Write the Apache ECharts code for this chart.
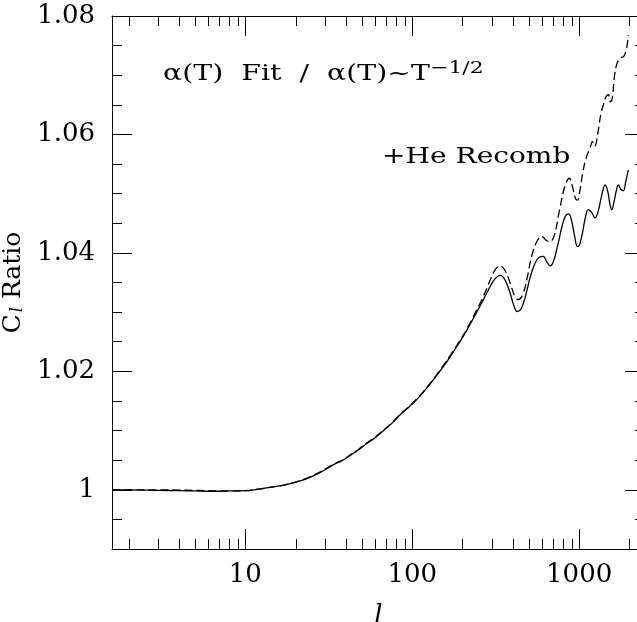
<!DOCTYPE html>
<html>
<head>
<meta charset="utf-8">
<script src="https://cdn.jsdelivr.net/npm/echarts@6/dist/echarts.min.js"></script>
<style>
  html, body { margin: 0; padding: 0; background: #fff; }
  #chart { width: 637px; height: 622px; }
</style>
</head>
<body>
<div id="chart"></div>
<script>
// multipole l and C_l ratio, fit / T^-1/2 recombination (solid)
var ellSolid = [1.6, 2, 3, 4, 5, 6, 7, 8, 10, 12, 14, 17, 20, 24, 28, 31, 34, 38, 43, 48, 54, 60, 68, 76, 85, 95, 107, 120, 134, 150, 169, 190, 213, 240, 268, 295, 315, 337, 360, 385, 405, 425, 450, 480, 510, 545, 580, 610, 640, 670, 700, 740, 790, 830, 865, 900, 940, 975, 1000, 1040, 1090, 1135, 1190, 1245, 1300, 1360, 1430, 1480, 1530, 1567, 1620, 1670, 1718, 1780, 1841, 1900, 1970]
var ratioSolid = [1.0000, 1.0000, 0.99990, 0.99985, 0.99980, 0.99975, 0.99975, 0.99980, 0.99985, 1.0001, 1.0004, 1.0008, 1.0013, 1.0020, 1.0029, 1.0036, 1.0043, 1.0049, 1.0059, 1.0068, 1.0079, 1.0088, 1.0101, 1.0113, 1.0127, 1.0139, 1.0153, 1.0169, 1.0186, 1.0204, 1.0225, 1.0247, 1.0270, 1.0297, 1.0322, 1.0345, 1.0357, 1.0362, 1.0354, 1.0333, 1.0312, 1.0301, 1.0306, 1.0330, 1.0360, 1.0383, 1.0393, 1.0394, 1.0385, 1.0378, 1.0385, 1.0410, 1.0445, 1.0463, 1.0466, 1.0455, 1.0428, 1.0411, 1.0412, 1.0430, 1.0460, 1.0473, 1.0468, 1.0459, 1.0470, 1.0495, 1.0515, 1.0505, 1.0482, 1.0473, 1.0487, 1.0505, 1.0515, 1.0507, 1.0505, 1.0520, 1.0540]

// +He recombination (dashed)
var ellDashed = [1.6, 2, 3, 4, 5, 6, 7, 8, 10, 12, 14, 17, 20, 24, 28, 31, 34, 38, 43, 48, 54, 60, 68, 76, 85, 95, 107, 120, 134, 150, 169, 190, 213, 240, 268, 295, 315, 336, 360, 385, 410, 432, 460, 490, 520, 560, 597, 635, 670, 710, 760, 820, 873, 910, 950, 975, 1010, 1050, 1100, 1162, 1200, 1240, 1290, 1350, 1397, 1450, 1497, 1540, 1580, 1630, 1679, 1758, 1850, 1920, 1972]
var ratioDashed = [1.0000, 1.0000, 1.0000, 0.99995, 0.99990, 0.99985, 0.99980, 0.99980, 0.99985, 1.0001, 1.0004, 1.0008, 1.0013, 1.0021, 1.0030, 1.0037, 1.0044, 1.0050, 1.0060, 1.0069, 1.0080, 1.0089, 1.0102, 1.0114, 1.0128, 1.0140, 1.0154, 1.0170, 1.0187, 1.0206, 1.0227, 1.0249, 1.0272, 1.0300, 1.0328, 1.0356, 1.0372, 1.0378, 1.0370, 1.0350, 1.0328, 1.0321, 1.0330, 1.0360, 1.0395, 1.0420, 1.0428, 1.0421, 1.0419, 1.0430, 1.0470, 1.0512, 1.0526, 1.0513, 1.0492, 1.0489, 1.0505, 1.0535, 1.0560, 1.0577, 1.0588, 1.0580, 1.0600, 1.0635, 1.0650, 1.0664, 1.0667, 1.0655, 1.0662, 1.0700, 1.0718, 1.0729, 1.0732, 1.0745, 1.0768]

var majorTicksX = [10, 100, 1000]
var minorTicksX = [2, 3, 4, 5, 6, 7, 8, 9, 20, 30, 40, 50, 60, 70, 80, 90, 200, 300, 400, 500, 600, 700, 800, 900, 2000]
var majorTicksY = [1, 1.02, 1.04, 1.06, 1.08]

var chart = echarts.init(document.getElementById('chart'))

var serif = 'DejaVu Serif'
var xMin = 1.59
var xMax = 2480
var yMin = 0.99
var yMax = 1.08

function zip(xs, ys) {
  return xs.map(function (x, i) { return [x, ys[i]] })
}

function yAxisOf(position, len, major, labels) {
  var ax = {
    type: 'value',
    min: yMin,
    max: yMax,
    position: position,
    axisLine: { show: major, lineStyle: { color: '#000', width: 1 } },
    axisTick: { inside: true, length: len, lineStyle: { color: '#000', width: 1 } },
    axisLabel: { show: false },
    splitLine: { show: false }
  }
  if (major) {
    ax.axisTick.customValues = majorTicksY
    if (labels) {
      ax.axisLabel = {
        show: true,
        customValues: majorTicksY,
        margin: 17,
        color: '#000',
        fontFamily: serif,
        fontSize: 26
      }
    }
  } else {
    ax.interval = 0.005
  }
  return ax
}

// log-axis ticks (bottom and top), placed through the axis scale
function renderTick(params, api) {
  var v = api.value(0)
  var len = majorTicksX.indexOf(v) >= 0 ? 20 : 10
  var b = api.coord([v, yMin])
  var t = api.coord([v, yMax])
  var x = Math.round(b[0]) + 0.5
  var st = { stroke: '#000', lineWidth: 1 }
  return {
    type: 'group',
    children: [
      { type: 'line', shape: { x1: x, y1: b[1], x2: x, y2: b[1] - len }, style: st },
      { type: 'line', shape: { x1: x, y1: t[1], x2: x, y2: t[1] + len }, style: st }
    ]
  }
}

var option = {
  backgroundColor: '#fff',
  animation: false,
  grid: {
    left: 112,
    top: 16,
    right: -8,
    bottom: 73,
    containLabel: false,
    outerBoundsMode: 'none'
  },
  xAxis: [
    {
      type: 'log',
      logBase: 10,
      min: xMin,
      max: xMax,
      position: 'bottom',
      axisLine: { lineStyle: { color: '#000', width: 1 } },
      axisTick: { show: false },
      axisLabel: {
        customValues: majorTicksX,
        formatter: function (v) { return String(v) },
        margin: 13,
        color: '#000',
        fontFamily: serif,
        fontSize: 26
      },
      splitLine: { show: false },
      name: 'l',
      nameLocation: 'middle',
      nameGap: 54,
      nameTextStyle: { fontFamily: serif, fontStyle: 'italic', fontSize: 26, color: '#000' }
    },
    {
      type: 'log',
      logBase: 10,
      min: xMin,
      max: xMax,
      position: 'top',
      axisLine: { lineStyle: { color: '#000', width: 1 } },
      axisTick: { show: false },
      axisLabel: { show: false },
      splitLine: { show: false }
    }
  ],
  yAxis: [
    Object.assign(yAxisOf('left', 20, true, true), {
      name: '{c|C}{s|l}{c| Ratio}',
      nameLocation: 'middle',
      nameRotate: 90,
      nameGap: 66,
      nameTextStyle: {
        rich: {
          c: { fontFamily: serif, fontSize: 25, color: '#000' },
          s: { fontFamily: serif, fontStyle: 'italic', fontSize: 16, color: '#000', padding: [10, 0, 0, 2] }
        }
      }
    }),
    yAxisOf('left', 10, false),
    yAxisOf('right', 20, true, false),
    yAxisOf('right', 10, false)
  ],
  graphic: [
    {
      type: 'text',
      x: 163,
      y: 60,
      scaleX: 1.29,
      style: {
        text: 'α(T)  Fit  /  α(T)~T{sup|−1/2}',
        fill: '#000',
        font: '22px "DejaVu Serif"',
        rich: {
          sup: { fontFamily: serif, fontSize: 17, verticalAlign: 'top', padding: [0, 0, 12, 0] }
        }
      }
    },
    {
      type: 'text',
      x: 382,
      y: 146,
      scaleX: 1.22,
      style: {
        text: '+He Recomb',
        fill: '#000',
        font: '23px "DejaVu Serif"'
      }
    }
  ],
  series: [
    {
      name: 'ticks',
      type: 'custom',
      xAxisIndex: 0,
      yAxisIndex: 0,
      silent: true,
      clip: false,
      data: majorTicksX.concat(minorTicksX).map(function (v) { return [v, yMin] }),
      renderItem: renderTick
    },
    {
      name: 'Fit',
      type: 'line',
      xAxisIndex: 0,
      yAxisIndex: 0,
      data: zip(ellSolid, ratioSolid),
      smooth: 0.4,
      showSymbol: false,
      lineStyle: { color: '#000', width: 1.3, type: 'solid' }
    },
    {
      name: '+He Recomb',
      type: 'line',
      xAxisIndex: 0,
      yAxisIndex: 0,
      data: zip(ellDashed, ratioDashed),
      smooth: 0.4,
      showSymbol: false,
      lineStyle: { color: '#000', width: 1.3, type: [8, 4] }
    }
  ]
}
chart.setOption(option)
</script>
</body>
</html>
